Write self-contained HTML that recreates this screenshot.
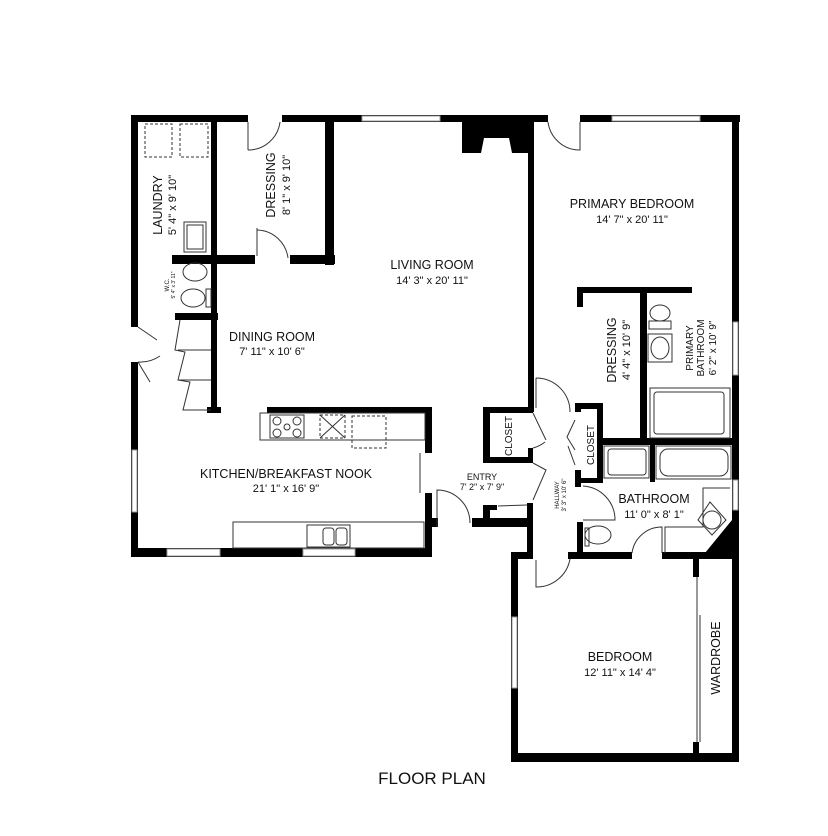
<!DOCTYPE html>
<html><head><meta charset="utf-8"><style>
html,body{margin:0;padding:0;background:#fff;}
svg{display:block}
text{font-family:"Liberation Sans",sans-serif;fill:#111}
</style></head><body>
<svg width="828" height="836" viewBox="0 0 828 836" xmlns="http://www.w3.org/2000/svg">
<g fill="#000">
<!-- outer top -->
<rect x="131" y="115" width="609" height="7"/>
<!-- left -->
<rect x="131" y="115" width="7" height="212"/>
<rect x="131" y="362" width="7" height="195"/>
<!-- bottom kitchen -->
<rect x="131" y="548" width="301" height="9"/>
<!-- laundry/dressing divider -->
<rect x="211" y="115" width="6" height="298"/>
<rect x="207" y="407" width="14" height="6"/>
<rect x="172" y="255" width="83" height="9"/>
<rect x="290" y="255" width="45" height="9"/>
<rect x="325" y="122" width="9" height="143"/>
<rect x="175" y="313" width="43" height="7"/>
<!-- kitchen top -->
<rect x="267" y="407" width="165" height="6"/>
<rect x="425" y="407" width="7" height="46"/>
<rect x="425" y="493" width="7" height="64"/>
<rect x="425" y="518" width="13" height="9"/>
<!-- entry bottom -->
<rect x="472" y="518" width="61" height="9"/>
<rect x="483" y="505" width="7" height="14"/>
<rect x="483" y="505" width="14" height="5"/>
<rect x="527" y="503" width="6" height="55"/>
<rect x="511" y="552" width="22" height="7"/>
<!-- living/primary divider -->
<rect x="528" y="115" width="6" height="297"/>
<!-- left closet -->
<rect x="483" y="407" width="50" height="6"/>
<rect x="483" y="407" width="7" height="56"/>
<rect x="483" y="457" width="50" height="6"/>
<rect x="528" y="448" width="5" height="15"/>
<!-- fireplace -->
<rect x="462" y="122" width="66" height="31"/>
<!-- bedroom -->
<rect x="511" y="552" width="7" height="210"/>
<rect x="511" y="753" width="227" height="9"/>
<rect x="732" y="115" width="7" height="647"/>
<rect x="568" y="552" width="64" height="7"/>
<rect x="662" y="552" width="76" height="7"/>
<rect x="693" y="559" width="6" height="18"/>
<rect x="693" y="742" width="6" height="12"/>
<!-- hallway right / small closet -->
<rect x="575" y="403" width="6" height="9"/>
<rect x="575" y="470" width="6" height="17"/>
<rect x="575" y="403" width="27" height="6"/>
<rect x="597" y="403" width="6" height="80"/>
<rect x="575" y="478" width="28" height="5"/>
<rect x="577" y="522" width="6" height="36"/>
<!-- primary dressing -->
<rect x="577" y="287" width="115" height="6"/>
<rect x="577" y="287" width="6" height="20"/>
<rect x="640" y="287" width="7" height="151"/>
<rect x="602" y="438" width="130" height="7"/>
<rect x="650" y="445" width="5" height="37"/>
<polygon points="732,520 732,553 705,553"/>
</g>
<!-- windows -->
<g fill="#fff" stroke="#999" stroke-width="1">
<rect x="362" y="116" width="78" height="5"/>
<rect x="612" y="116" width="88" height="5"/>
<rect x="132" y="450" width="5" height="62"/>
<rect x="167" y="549" width="53" height="7"/>
<rect x="303" y="549" width="52" height="7"/>
<rect x="733" y="322" width="5" height="53"/>
<rect x="733" y="480" width="5" height="30"/>
<rect x="512" y="617" width="5" height="71"/>
</g>
<g fill="#fff"><polygon points="481,153 512,153 509,138 484,138"/>
<rect x="248" y="114" width="34" height="9"/><rect x="548" y="114" width="32" height="9"/></g>
<!-- fixtures -->
<g fill="none" stroke="#333" stroke-width="1">
<rect x="145" y="124" width="27" height="33" stroke-dasharray="3,2"/>
<rect x="180" y="124" width="28" height="33" stroke-dasharray="3,2"/>
<rect x="184" y="222" width="22" height="30"/><rect x="187" y="225" width="16" height="24"/>
<ellipse cx="195" cy="272" rx="12" ry="9"/><ellipse cx="193" cy="298" rx="12" ry="9"/>
<rect x="206" y="289" width="5" height="18"/>
<path d="M138,327 L157,340 M138,362 L150,382 M180,320 L175,350 L185,352 L178,380 L190,382 L183,410 L211,410 M178,350 L211,350 M178,380 L211,380"/>
<path d="M138,362 A35,35 0 0 0 160,356"/>
<path d="M248,150 A32,32 0 0 0 280,122 M248,122 L248,150"/>
<path d="M257,230 A32,32 0 0 1 288,258 M257,228 L257,256"/>
<rect x="260" y="413" width="165" height="27"/>
<rect x="270" y="415" width="34" height="23"/>
<circle cx="277" cy="421" r="4"/><circle cx="297" cy="421" r="4"/><circle cx="287" cy="427" r="3"/><circle cx="277" cy="433" r="4"/><circle cx="297" cy="433" r="4"/>
<rect x="320" y="415" width="25" height="23" stroke-dasharray="3,2"/><path d="M320,415 L345,438 M345,415 L320,438"/>
<rect x="352" y="416" width="34" height="32" stroke-dasharray="3,2"/>
<rect x="233" y="522" width="191" height="26"/>
<rect x="307" y="525" width="43" height="22"/><rect x="323" y="528" width="11" height="17" rx="3"/><rect x="336" y="528" width="11" height="17" rx="3"/>
<path d="M420,453 L420,493"/>
<path d="M437,527 L437,490 A33,33 0 0 1 470,523"/>
<path d="M533,413 L546,440 M533,448 A32,32 0 0 0 545,442 M533,463 L546,470 L533,500 M498,506 L527,505"/>
<path d="M536,378 L536,408 M536,378 A34,34 0 0 1 570,412"/>
<path d="M575,420 L567,437 L575,450 M575,420 M568,446 L575,465"/>
<path d="M583,486 A34,34 0 0 1 615,520 L583,520"/>
<path d="M536,560 L536,587 A34,34 0 0 0 570,559"/>
<path d="M632,553 A30,30 0 0 1 662,527 L662,553"/>
<ellipse cx="598" cy="535" rx="13" ry="9"/><rect x="585" y="528" width="4" height="18"/>
<rect x="604" y="446" width="45" height="32"/><rect x="608" y="449" width="38" height="26" rx="3"/>
<rect x="656" y="446" width="75" height="33"/><rect x="660" y="449" width="68" height="27" rx="8"/>
<rect x="650" y="388" width="80" height="50"/><rect x="654" y="392" width="70" height="42" rx="3"/>
<ellipse cx="660" cy="313" rx="10" ry="8"/><rect x="649" y="321" width="22" height="8"/>
<rect x="648" y="334" width="24" height="28"/><ellipse cx="660" cy="348" rx="9" ry="11"/>
<path d="M665,553 L665,527 L703,527 L703,488 L730,488"/>
<path d="M710,502 L726,520 L712,535 L698,520 Z"/><circle cx="712" cy="520" r="9"/>
<path d="M580,122 L580,150 A32,32 0 0 1 548,122"/>
<path d="M697,577 L697,742 M700,615 L700,742"/>
</g>
<g font-size="12.5" text-anchor="middle">
<text x="432" y="269">LIVING ROOM</text><text x="432" y="284" font-size="11">14' 3" x 20' 11"</text>
<text x="632" y="208">PRIMARY BEDROOM</text><text x="632" y="223" font-size="11">14' 7" x 20' 11"</text>
<text x="272" y="341">DINING ROOM</text><text x="272" y="355" font-size="11">7' 11" x 10' 6"</text>
<text x="286" y="478">KITCHEN/BREAKFAST NOOK</text><text x="286" y="492" font-size="11">21' 1" x 16' 9"</text>
<text x="654" y="503">BATHROOM</text><text x="654" y="518" font-size="11">11' 0" x 8' 1"</text>
<text x="620" y="661">BEDROOM</text><text x="620" y="676" font-size="11">12' 11" x 14' 4"</text>
<text x="482" y="480" font-size="9">ENTRY</text><text x="482" y="490" font-size="9">7' 2" x 7' 9"</text>
<text transform="translate(162,205) rotate(-90)">LAUNDRY</text>
<text transform="translate(176,205) rotate(-90)" font-size="11">5' 4" x 9' 10"</text>
<text transform="translate(275,185) rotate(-90)">DRESSING</text>
<text transform="translate(290,185) rotate(-90)" font-size="11">8' 1" x 9' 10"</text>
<text transform="translate(616,350) rotate(-90)">DRESSING</text>
<text transform="translate(630,350) rotate(-90)" font-size="11">4' 4" x 10' 9"</text>
<text transform="translate(693,348) rotate(-90)" font-size="10">PRIMARY</text>
<text transform="translate(704,348) rotate(-90)" font-size="10">BATHROOM</text>
<text transform="translate(716,348) rotate(-90)" font-size="10">6' 2" x 10' 9"</text>
<text transform="translate(512,436) rotate(-90)" font-size="10">CLOSET</text>
<text transform="translate(594,445) rotate(-90)" font-size="10">CLOSET</text>
<text transform="translate(720,658) rotate(-90)">WARDROBE</text>
<text transform="translate(559,495) rotate(-90)" font-size="6">HALLWAY</text>
<text transform="translate(566,495) rotate(-90)" font-size="6">3' 3" x 10' 6"</text>
<text transform="translate(169,285) rotate(-90)" font-size="6">W.C.</text>
<text transform="translate(175,285) rotate(-90)" font-size="5">5' 4" x 3' 11"</text>
<text x="432" y="784" font-size="17">FLOOR PLAN</text>
</g>
</svg>
</body></html>
